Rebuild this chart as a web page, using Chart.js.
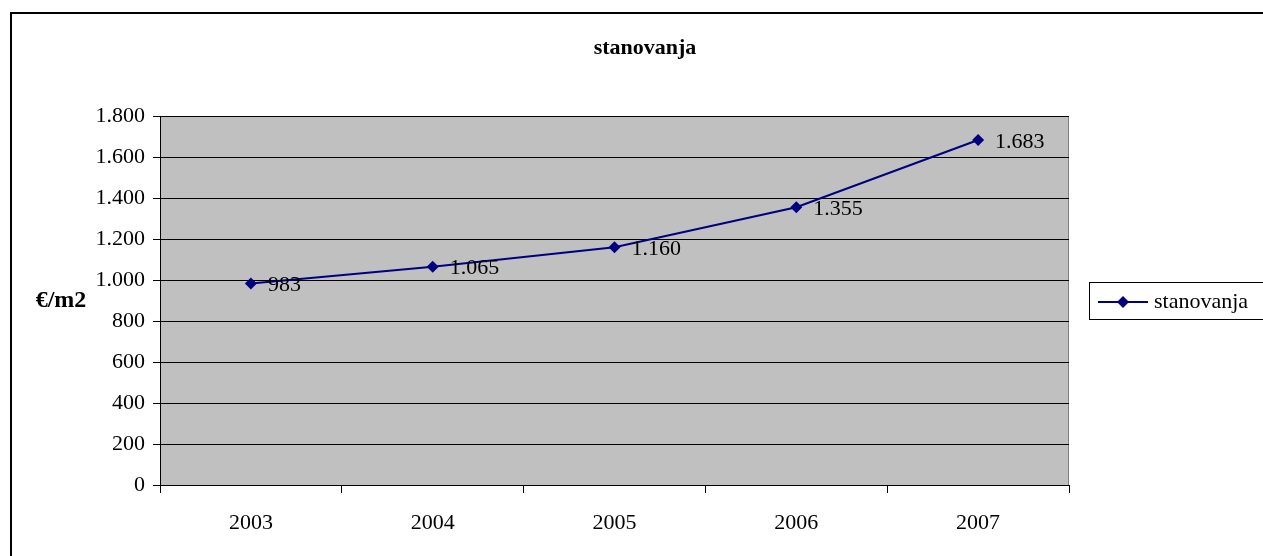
<!DOCTYPE html>
<html>
<head>
<meta charset="utf-8">
<script src="https://cdn.jsdelivr.net/npm/chart.js@4/dist/chart.umd.min.js"></script>
<style>
  html, body { margin: 0; padding: 0; background: #fff; }
  #wrap { width: 1263px; height: 556px; position: relative; }
</style>
</head>
<body>
<div id="wrap"><canvas id="lineChart"></canvas></div>
<script>
const years = ['2003', '2004', '2005', '2006', '2007'];
const prices = [983, 1065, 1160, 1355, 1683];
const seriesName = 'stanovanja';
const chartTitle = 'stanovanja';
const yTitle = '€/m2';

const serif = '"Liberation Serif", "Times New Roman", serif';

function fmt(v) {
  return String(Math.round(v)).replace(/\B(?=(\d{3})+(?!\d))/g, '.');
}

const decorPlugin = {
  id: 'decor',
  beforeDraw(chart) {
    const ctx = chart.ctx;
    const a = chart.chartArea;
    ctx.save();
    // outer frame
    ctx.strokeStyle = '#000';
    ctx.lineWidth = 2;
    ctx.strokeRect(11, 13, 1400, 700);
    // plot background
    ctx.fillStyle = '#c0c0c0';
    ctx.fillRect(a.left, a.top, a.right - a.left, a.bottom - a.top);
    ctx.strokeStyle = '#808080';
    ctx.lineWidth = 1;
    ctx.strokeRect(a.left + 0.5, a.top + 0.5, a.right - a.left - 1, a.bottom - a.top);
    ctx.restore();
  },
  afterDraw(chart) {
    const ctx = chart.ctx;
    ctx.save();
    // title
    ctx.fillStyle = '#000';
    ctx.font = 'bold 22px ' + serif;
    ctx.textAlign = 'center';
    ctx.textBaseline = 'middle';
    ctx.fillText(chartTitle, 645, 48);
    // y axis title
    ctx.font = 'bold 24px ' + serif;
    ctx.fillText(yTitle, 61, 301);

    // data labels
    const meta = chart.getDatasetMeta(0);
    ctx.font = '22px ' + serif;
    ctx.textAlign = 'left';
    meta.data.forEach((pt, i) => {
      ctx.fillText(fmt(prices[i]), pt.x + 17, pt.y + 2);
    });

    // legend
    ctx.strokeStyle = '#000';
    ctx.lineWidth = 1;
    ctx.strokeRect(1089.5, 282.5, 300, 37);
    ctx.strokeStyle = '#000080';
    ctx.lineWidth = 2;
    ctx.beginPath();
    ctx.moveTo(1098, 302);
    ctx.lineTo(1148, 302);
    ctx.stroke();
    ctx.fillStyle = '#000080';
    ctx.beginPath();
    ctx.moveTo(1123, 296);
    ctx.lineTo(1129, 302);
    ctx.lineTo(1123, 308);
    ctx.lineTo(1117, 302);
    ctx.closePath();
    ctx.fill();
    ctx.fillStyle = '#000';
    ctx.font = '22px ' + serif;
    ctx.fillText(seriesName, 1154, 302);
    ctx.restore();
  }
};

const ctx = document.getElementById('lineChart').getContext('2d');
new Chart(ctx, {
  type: 'line',
  data: {
    labels: years,
    datasets: [{
      label: seriesName,
      data: prices,
      borderColor: '#000080',
      backgroundColor: '#000080',
      borderWidth: 2,
      pointStyle: 'rectRot',
      pointRadius: 6,
      pointBackgroundColor: '#000080',
      pointBorderWidth: 0,
      tension: 0
    }]
  },
  options: {
    responsive: true,
    maintainAspectRatio: false,
    animation: false,
    layout: { padding: { left: 0, top: 116, right: 194, bottom: 0 } },
    plugins: {
      legend: { display: false },
      tooltip: { enabled: false },
      title: { display: false }
    },
    scales: {
      x: {
        offset: true,
        grid: {
          offset: true,
          drawOnChartArea: false,
          drawTicks: true,
          tickLength: 8,
          tickColor: '#000'
        },
        border: { color: '#000', width: 1 },
        ticks: {
          color: '#000',
          font: { family: serif, size: 22 },
          padding: 17,
          maxRotation: 0
        },
        afterFit(scale) { scale.height = 71; }
      },
      y: {
        min: 0,
        max: 1800,
        grid: {
          color: '#000',
          lineWidth: 1,
          drawTicks: true,
          tickLength: 7,
          tickColor: '#000'
        },
        border: { color: '#000', width: 1 },
        ticks: {
          stepSize: 200,
          color: '#000',
          font: { family: serif, size: 22 },
          padding: 8,
          callback: (v) => fmt(v)
        },
        afterFit(scale) { scale.width = 160; }
      }
    }
  },
  plugins: [decorPlugin]
});
</script>
</body>
</html>
